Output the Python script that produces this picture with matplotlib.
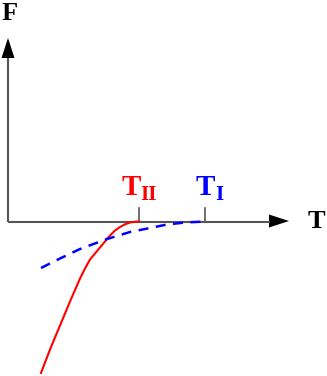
import matplotlib.pyplot as plt
from matplotlib.patches import Polygon

# curve values (T along the axis, F below the axis is negative)
t_red = [139, 135, 130, 125, 120, 115, 110, 105, 100, 95, 90, 85, 80, 70, 60, 50, 41]
f_red = [0, -0.3, -1, -2.8, -5.5, -9, -14, -20, -26, -32, -38, -47, -57, -80, -104, -128, -151.5]

t_blue = [41, 60, 80, 107, 130, 150, 167, 185, 205]
f_blue = [-46.5, -37, -27.5, -17.5, -10.5, -6.5, -3, -1, 0]

t_ticks = [139, 205]
tick_main = ['T', 'T']
tick_sub = ['II', 'I']
tick_colors = ['red', 'blue']

fig = plt.figure(figsize=(3.27, 3.76), dpi=100)
ax = fig.add_axes([0, 0, 1, 1])
ax.set_xlim(0, 327)
ax.set_ylim(221.5 - 376, 221.5)
ax.axis('off')

axis_col = '#555555'
# axes with arrow heads
ax.plot([7.5, 7.5], [0, 164], color=axis_col, lw=1.5, solid_capstyle='butt')
ax.plot([7.5, 270], [0, 0], color=axis_col, lw=1.5, solid_capstyle='butt')
ax.add_patch(Polygon([(1.5, 163.5), (14.5, 163.5), (8, 183.5)], closed=True, color='black', lw=0))
ax.add_patch(Polygon([(269, 7), (269, -6), (289, 0.5)], closed=True, color='black', lw=0))

for t in t_ticks:
    ax.plot([t, t], [0, 13.5], color=axis_col, lw=1.2)

ax.plot(t_red, f_red, color='red', lw=1.5)
ax.plot(t_blue, f_blue, color='blue', lw=1.8, dashes=(4, 3))

font = dict(family='Liberation Serif', weight='bold')
ax.text(2, 201.5, 'F', fontsize=19, va='baseline', ha='left', **font)
ax.text(308, -6.5, 'T', fontsize=19, va='baseline', ha='left', **font)

main_x = [122, 196]
sub_x = [140, 215.5]
for m, s, c, mx, sx in zip(tick_main, tick_sub, tick_colors, main_x, sub_x):
    ax.text(mx, 26.5, m, fontsize=21, color=c, va='baseline', ha='left', **font)
    ax.text(sx, 21.5, s, fontsize=15, color=c, va='baseline', ha='left', **font)

fig.savefig('out.png', dpi=100)
